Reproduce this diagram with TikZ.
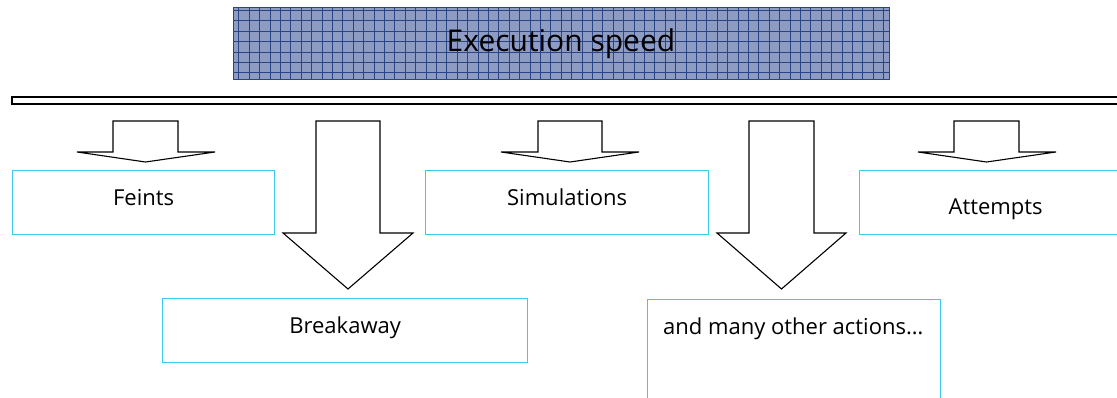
\documentclass[tikz,border=0pt]{standalone}
\usepackage{fontspec}
\setmainfont{Open Sans}
\usetikzlibrary{positioning}
\definecolor{boxcyan}{HTML}{3CC8F0}
\definecolor{gridfill}{HTML}{8E9CC4}
\definecolor{gridline}{HTML}{2A4585}

\begin{document}
\begin{tikzpicture}[x=1pt,y=-1pt,
  box/.style={draw=boxcyan,line width=1.3pt,fill=white,anchor=north west,inner sep=0pt,
              minimum height=64pt,text height=16pt,text depth=10pt,font=\fontsize{22}{26}\selectfont},
  lbl/.style={inner sep=0pt,font=\fontsize{22}{26}\selectfont},
  hdr/.style={draw=gridline,line width=1pt,fill=gridfill,minimum width=656pt,minimum height=72pt,
              font=\fontsize{30}{34}\selectfont,
              path picture={\draw[gridline,line width=0.5pt]
                (path picture bounding box.south west) grid[step=10.4pt] (path picture bounding box.north east);}},
  blk/.style={draw=black,line width=1.1pt,fill=white,line join=miter},
  bar/.style={draw=black,line width=1.3pt,fill=white}]
\useasboundingbox (0,0) rectangle (1117,398);
\clip (0,0) rectangle (1117,398);

\node[hdr] (speed) at (561,44) {Execution speed};
\draw[bar] (12,97) rectangle (1135,104);

% small arrows over the top row
\draw[blk] (113,121) -- (178,121) -- (178,152) -- (215,152) -- (145.5,162) -- (77,152) -- (113,152) -- cycle;
\draw[blk] (538,121) -- (602,121) -- (602,152) -- (639,152) -- (570,162) -- (501,152) -- (538,152) -- cycle;
\draw[blk] (954,121) -- (1019,121) -- (1019,152) -- (1056,152) -- (986.5,162) -- (918,152) -- (954,152) -- cycle;
% long arrows down to the second row
\draw[blk] (316,121) -- (380,121) -- (380,233) -- (413,233) -- (348,289) -- (283,233) -- (316,233) -- cycle;
\draw[blk] (749,121) -- (814,121) -- (814,233) -- (846,233) -- (781.5,289) -- (717,233) -- (749,233) -- cycle;

\node[box,minimum width=262pt] (feints) at (12,170) {Feints};
\node[box,minimum width=283pt] (simul) at (425,170) {Simulations};
\node[box,minimum width=272pt,text height=24pt,text depth=0pt] (attempt) at (859,170) {Attempts};
\node[box,minimum width=365pt] (breakaway) at (162,298) {Breakaway};
\node[box,minimum width=293pt,minimum height=120pt] (other) at (647,299) {};
\node[lbl,anchor=north west] (otherlbl) at ([xshift=16pt,yshift=-19pt]other.north west) {and many other actions…};
\end{tikzpicture}
\end{document}
